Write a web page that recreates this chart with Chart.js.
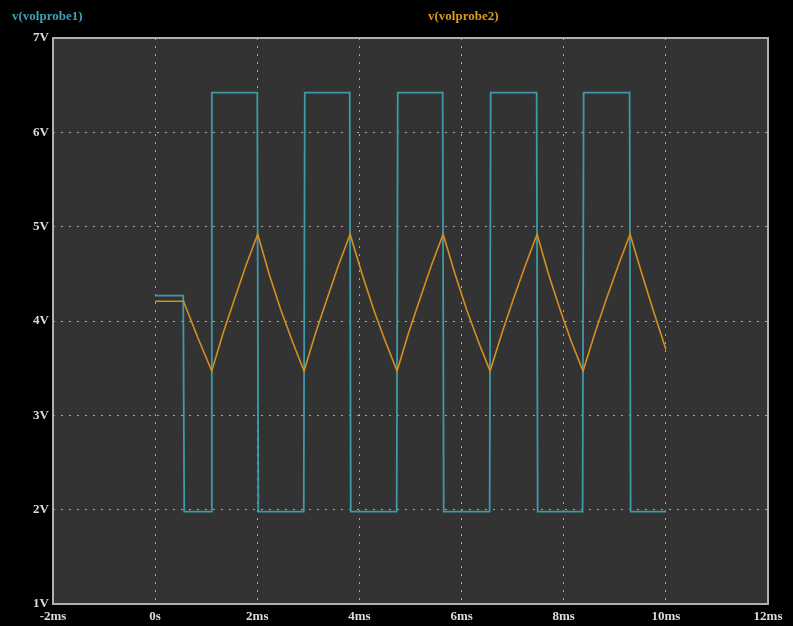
<!DOCTYPE html>
<html>
<head>
<meta charset="utf-8">
<script src="https://cdn.jsdelivr.net/npm/chart.js@4.4.1/dist/chart.umd.min.js"></script>
<style>
  html, body { margin: 0; padding: 0; background: #000; }
  #wrap { width: 793px; height: 626px; }
</style>
</head>
<body>
<div id="wrap"><canvas id="scope" width="793" height="626"></canvas></div>
<script>
// probe 1 (square wave), time in ms / volts
var probe1Time = [0, 0.55, 0.57, 1.10, 1.11, 2.00, 2.02, 2.91, 2.93, 3.81, 3.83, 4.73, 4.75, 5.63, 5.65, 6.55, 6.57, 7.47, 7.49, 8.37, 8.39, 9.29, 9.31, 10.0];
var probe1Volts = [4.27, 4.27, 1.98, 1.98, 6.42, 6.42, 1.98, 1.98, 6.42, 6.42, 1.98, 1.98, 6.42, 6.42, 1.98, 1.98, 6.42, 6.42, 1.98, 1.98, 6.42, 6.42, 1.98, 1.98];

// probe 2 (triangle-ish), time in ms / volts
var probe2Time = [0, 0.556, 0.83, 1.108,
  1.33, 1.56, 1.78, 2.009,
  2.23, 2.46, 2.69, 2.916,
  3.14, 3.37, 3.59, 3.818,
  4.05, 4.28, 4.51, 4.737,
  4.96, 5.19, 5.41, 5.639,
  5.87, 6.10, 6.33, 6.558,
  6.79, 7.02, 7.25, 7.479,
  7.70, 7.93, 8.15, 8.379,
  8.61, 8.84, 9.07, 9.299,
  9.53, 9.76, 10.0];
var probe2Volts = [4.21, 4.21, 3.83, 3.47,
  3.87, 4.24, 4.59, 4.92,
  4.50, 4.12, 3.78, 3.47,
  3.87, 4.24, 4.59, 4.92,
  4.50, 4.12, 3.78, 3.47,
  3.87, 4.24, 4.59, 4.92,
  4.50, 4.12, 3.78, 3.47,
  3.87, 4.24, 4.59, 4.92,
  4.50, 4.12, 3.78, 3.47,
  3.87, 4.24, 4.59, 4.92,
  4.50, 4.10, 3.70];

var xTicks = [-2, 0, 2, 4, 6, 8, 10, 12];
var yTicks = [1, 2, 3, 4, 5, 6, 7];
var traceNames = ['v(volprobe1)', 'v(volprobe2)'];

function toPoints(xs, ys) {
    var pts = [];
    for (var i = 0; i < xs.length; i++) {
        pts.push({x: xs[i], y: ys[i]});
    }
    return pts;
}

// dark plot area, frame and the trace names at the top
var scopeFrame = {
    id: 'scopeFrame',
    beforeDraw: function(chart) {
        var ctx = chart.ctx, a = chart.chartArea;
        ctx.save();
        ctx.fillStyle = '#000';
        ctx.fillRect(0, 0, chart.width, chart.height);
        ctx.fillStyle = '#333333';
        ctx.fillRect(a.left, a.top, a.right - a.left, a.bottom - a.top);
        ctx.restore();
    },
    afterDraw: function(chart) {
        var ctx = chart.ctx, a = chart.chartArea;
        ctx.save();
        ctx.strokeStyle = '#b0b0b0';
        ctx.lineWidth = 2;
        ctx.strokeRect(a.left, a.top, a.right - a.left, a.bottom - a.top);
        ctx.font = 'bold 13px "Liberation Serif"';
        ctx.textBaseline = 'middle';
        ctx.textAlign = 'left';
        ctx.fillStyle = '#3fa3b8';
        ctx.fillText(traceNames[0], 12, 17);
        ctx.fillStyle = '#d99a1c';
        ctx.fillText(traceNames[1], 428, 17);
        ctx.restore();
    }
};

new Chart(document.getElementById('scope'), {
    type: 'scatter',
    data: {
        datasets: [{
            label: traceNames[1],
            data: toPoints(probe2Time, probe2Volts),
            showLine: true,
            borderColor: '#d4901e',
            borderWidth: 1.6,
            pointRadius: 0,
            tension: 0
        }, {
            label: traceNames[0],
            data: toPoints(probe1Time, probe1Volts),
            showLine: true,
            borderColor: '#3d9aab',
            borderWidth: 1.8,
            pointRadius: 0,
            tension: 0
        }]
    },
    options: {
        responsive: false,
        animation: false,
        layout: { padding: { top: 38, right: 25, left: 0, bottom: 0 } },
        plugins: { legend: { display: false }, tooltip: { enabled: false } },
        scales: {
            x: {
                type: 'linear',
                min: xTicks[0],
                max: xTicks[xTicks.length - 1],
                afterBuildTicks: function(scale) {
                    scale.ticks = xTicks.map(function(v) { return {value: v}; });
                },
                afterFit: function(scale) { scale.height = 22; },
                grid: { color: '#a8a8a8', lineWidth: 1, drawTicks: false },
                border: { display: false, dash: [2, 6] },
                ticks: {
                    color: '#dcdcdc',
                    padding: 5,
                    maxRotation: 0,
                    font: { family: 'Liberation Serif', size: 13, weight: 'bold' },
                    callback: function(v) { return v === 0 ? '0s' : v + 'ms'; }
                }
            },
            y: {
                min: yTicks[0],
                max: yTicks[yTicks.length - 1],
                afterBuildTicks: function(scale) {
                    scale.ticks = yTicks.map(function(v) { return {value: v}; });
                },
                afterFit: function(scale) { scale.width = 53; },
                grid: { color: '#a8a8a8', lineWidth: 1, drawTicks: false },
                border: { display: false, dash: [2, 6] },
                ticks: {
                    color: '#dcdcdc',
                    padding: 4,
                    font: { family: 'Liberation Serif', size: 13, weight: 'bold' },
                    callback: function(v) { return v + 'V'; }
                }
            }
        }
    },
    plugins: [scopeFrame]
});
</script>
</body>
</html>
